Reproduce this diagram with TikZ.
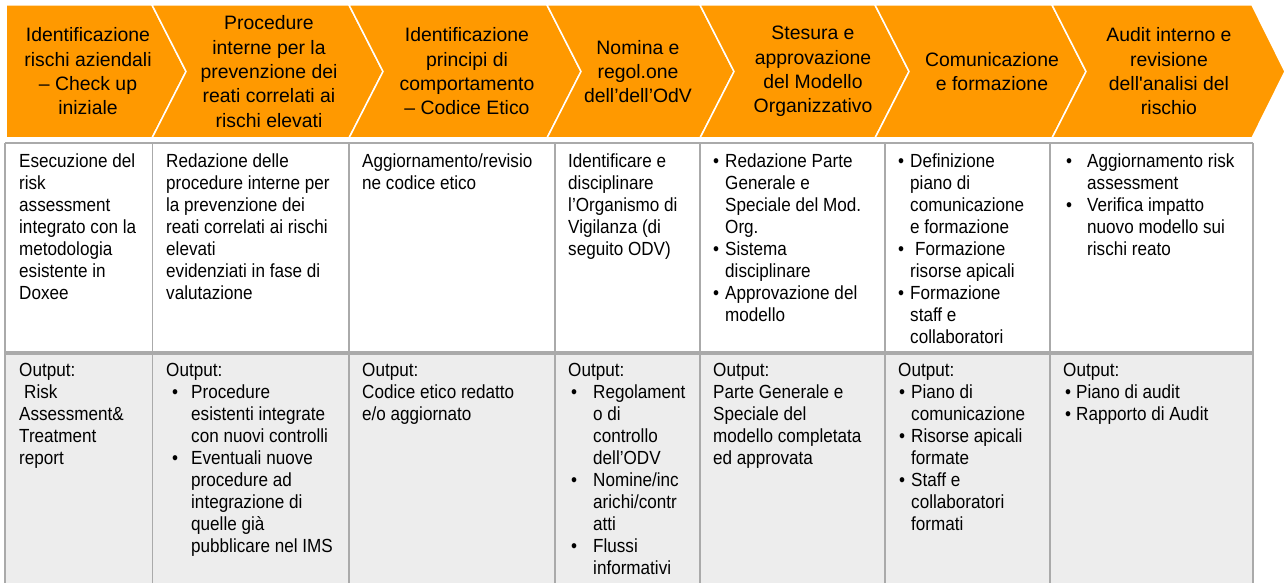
\documentclass[tikz,border=0pt]{standalone}
\usepackage{fontspec}
\setmainfont{Liberation Sans}
\newfontfamily\cellfam[FakeStretch=0.9]{Liberation Sans}
\usepackage{tikz}
\definecolor{chevorange}{RGB}{255,153,0}
\definecolor{gridgray}{RGB}{170,170,170}
\definecolor{outgray}{RGB}{237,237,237}
\newcommand{\pbul}[2]{\hspace*{#1}\makebox[#2][l]{\textbullet}}

\tikzset{
  chev/.style={fill=chevorange, draw=white, line width=1.5pt},
  hdtext/.style={align=center, inner sep=0pt, font=\fontsize{19.4}{24.3}\selectfont},
  celltext/.style={anchor=north west, align=left, inner sep=0pt, font=\cellfam\fontsize{19}{22}\selectfont},
  gridline/.style={draw=gridgray, line width=1.5pt}
}

\begin{document}
\begin{tikzpicture}[x=1pt,y=-1pt]
\useasboundingbox (0,0) rectangle (1285,583);

% chevrons
\draw[chev] (6,5) -- (152,5) -- (186,71.5) -- (152,138) -- (6,138) -- cycle;
\draw[chev] (152,5) -- (349,5) -- (383,71.5) -- (349,138) -- (152,138) -- (186,71.5) -- cycle;
\draw[chev] (349,5) -- (547,5) -- (581,71.5) -- (547,138) -- (349,138) -- (383,71.5) -- cycle;
\draw[chev] (547,5) -- (700,5) -- (734,71.5) -- (700,138) -- (547,138) -- (581,71.5) -- cycle;
\draw[chev] (700,5) -- (875,5) -- (909,71.5) -- (875,138) -- (700,138) -- (734,71.5) -- cycle;
\draw[chev] (875,5) -- (1052,5) -- (1086,71.5) -- (1052,138) -- (875,138) -- (909,71.5) -- cycle;
\draw[chev] (1052,5) -- (1252,5) -- (1285,71.5) -- (1252,138) -- (1052,138) -- (1086,71.5) -- cycle;

\node[hdtext] (hd1) at (88,71.5) {Identificazione\\rischi aziendali\\– Check up\\iniziale};
\node[hdtext] (hd2) at (269,71.5) {Procedure\\interne per la\\prevenzione dei\\reati correlati ai\\rischi elevati};
\node[hdtext] (hd3) at (467,71.5) {Identificazione\\principi di\\comportamento\\– Codice Etico};
\node[hdtext] (hd4) at (638,71.5) {Nomina e\\regol.one\\dell’dell’OdV};
\node[hdtext] (hd5) at (813,71.5) {Stesura e\\approvazione\\del Modello\\Organizzativo};
\node[hdtext] (hd6) at (992,71.5) {Comunicazione\\e formazione};
\node[hdtext] (hd7) at (1169,71.5) {Audit interno e\\revisione\\dell\textquotesingle analisi del\\rischio};

% table
\fill[outgray] (5,353) rectangle (1253,583);
\draw[gridline] (5,143) -- (1253,143);
\draw[gridline, line width=3.3pt] (5,353) -- (1253,353);
\draw[gridline] (5,143) -- (5,583);
\draw[gridline] (152.5,143) -- (152.5,583);
\draw[gridline] (349,143) -- (349,583);
\draw[gridline] (555,143) -- (555,583);
\draw[gridline] (700,143) -- (700,583);
\draw[gridline] (885,143) -- (885,583);
\draw[gridline] (1050,143) -- (1050,583);
\draw[gridline] (1253,143) -- (1253,583);

% activities
\node[celltext] (ds1) at (19,153.5) {Esecuzione del\\risk\\assessment\\integrato con la\\metodologia\\esistente in\\Doxee};
\node[celltext] (ds2) at (166,153.5) {Redazione delle\\procedure interne per\\la prevenzione dei\\reati correlati ai rischi\\elevati\\evidenziati in fase di\\valutazione};
\node[celltext] (ds3) at (362,153.5) {Aggiornamento/revisio\\ne codice etico};
\node[celltext] (ds4) at (568,153.5) {Identificare e\\disciplinare\\l’Organismo di\\Vigilanza (di\\seguito ODV)};
\node[celltext] (ds5) at (713,153.5) {\pbul{0pt}{12pt}Redazione Parte\\\hspace*{12pt}Generale e\\\hspace*{12pt}Speciale del Mod.\\\hspace*{12pt}Org.\\\pbul{0pt}{12pt}Sistema\\\hspace*{12pt}disciplinare\\\pbul{0pt}{12pt}Approvazione del\\\hspace*{12pt}modello};
\node[celltext] (ds6) at (898,153.5) {\pbul{0pt}{12pt}Definizione\\\hspace*{12pt}piano di\\\hspace*{12pt}comunicazione\\\hspace*{12pt}e formazione\\\pbul{0pt}{17pt}Formazione\\\hspace*{12pt}risorse apicali\\\pbul{0pt}{12pt}Formazione\\\hspace*{12pt}staff e\\\hspace*{12pt}collaboratori};
\node[celltext] (ds7) at (1063,153.5) {\pbul{3pt}{21pt}Aggiornamento risk\\\hspace*{24pt}assessment\\\pbul{3pt}{21pt}Verifica impatto\\\hspace*{24pt}nuovo modello sui\\\hspace*{24pt}rischi reato};

% outputs
\node[celltext] (op1) at (19,363.3) {Output:\\\hspace*{5pt}Risk\\Assessment\&\\Treatment\\report};
\node[celltext] (op2) at (166,363.3) {Output:\\\pbul{6pt}{19pt}Procedure\\\hspace*{25pt}esistenti integrate\\\hspace*{25pt}con nuovi controlli\\\pbul{6pt}{19pt}Eventuali nuove\\\hspace*{25pt}procedure ad\\\hspace*{25pt}integrazione di\\\hspace*{25pt}quelle già\\\hspace*{25pt}pubblicare nel IMS};
\node[celltext] (op3) at (362,363.3) {Output:\\Codice etico redatto\\e/o aggiornato};
\node[celltext] (op4) at (568,363.3) {Output:\\\pbul{3pt}{22pt}Regolament\\\hspace*{25pt}o di\\\hspace*{25pt}controllo\\\hspace*{25pt}dell’ODV\\\pbul{3pt}{22pt}Nomine/inc\\\hspace*{25pt}arichi/contr\\\hspace*{25pt}atti\\\pbul{3pt}{22pt}Flussi\\\hspace*{25pt}informativi};
\node[celltext] (op5) at (713,363.3) {Output:\\Parte Generale e\\Speciale del\\modello completata\\ed approvata};
\node[celltext] (op6) at (898,363.3) {Output:\\\pbul{1pt}{12pt}Piano di\\\hspace*{13pt}comunicazione\\\pbul{1pt}{12pt}Risorse apicali\\\hspace*{13pt}formate\\\pbul{1pt}{12pt}Staff e\\\hspace*{13pt}collaboratori\\\hspace*{13pt}formati};
\node[celltext] (op7) at (1063,363.3) {Output:\\\pbul{2pt}{11pt}Piano di audit\\\pbul{2pt}{11pt}Rapporto di Audit};
\end{tikzpicture}
\end{document}
